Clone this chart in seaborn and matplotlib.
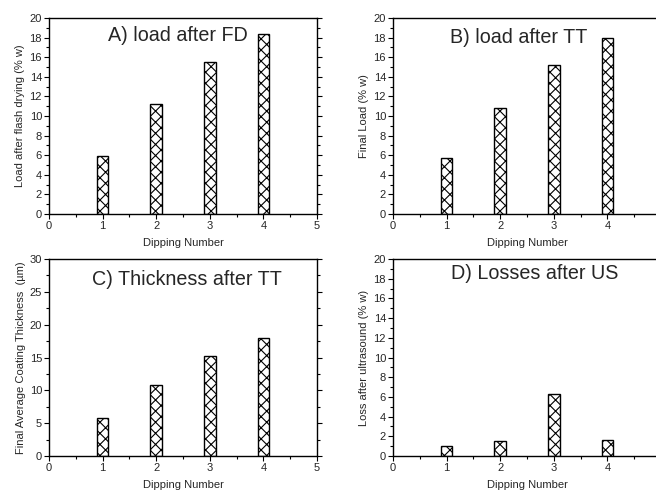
import numpy as np
import pandas as pd
import matplotlib
matplotlib.use('Agg')
import matplotlib.pyplot as plt
from matplotlib.ticker import MultipleLocator
import seaborn as sns

sns.set_style('ticks')
plt.rcParams['font.family'] = ['Liberation Sans', 'DejaVu Sans']
plt.rcParams['hatch.linewidth'] = 0.8

dips = [1, 2, 3, 4]
load_fd = [5.9, 11.2, 15.5, 18.4]
load_tt = [5.7, 10.8, 15.2, 18.0]
thick_tt = [5.8, 10.8, 15.2, 18.0]
loss_us = [1.0, 1.5, 6.3, 1.6]

panels = [
    # values, title, title pos, ylabel, ymax, ymajor, yminor, axes rect, right column?
    (load_fd, 'A) load after FD', (0.481, 0.913), 'Load after flash drying (% w)', 20, 2, 1,
     [49/656, 1-214/493, 268/656, 196/493], False),
    (load_tt, 'B) load after TT', (0.470, 0.900), 'Final Load (% w)', 20, 2, 1,
     [393/656, 1-214/493, 268/656, 196/493], True),
    (thick_tt, 'C) Thickness after TT', (0.514, 0.895), 'Final Average Coating Thickness  (\u00b5m)', 30, 5, 2.5,
     [49/656, 1-456/493, 268/656, 197/493], False),
    (loss_us, 'D) Losses after US', (0.530, 0.924), 'Loss after ultrasound (% w)', 20, 2, 1,
     [393/656, 1-456/493, 268/656, 197/493], True),
]

fig = plt.figure(figsize=(6.56, 4.93), dpi=100)

for vals, title, tpos, ylab, ymax, ymaj, ymin, rect, right_col in panels:
    ax = fig.add_axes(rect)
    df = pd.DataFrame({'dip': dips, 'val': vals})
    sns.barplot(data=df, x='dip', y='val', native_scale=True, width=0.22,
                color='white', edgecolor='black', linewidth=1.0,
                hatch='xxx', ax=ax, errorbar=None)
    for p in ax.patches:
        p.set_facecolor('white')
    ax.set_xlim(0, 5)
    ax.set_ylim(0, ymax)
    if right_col:
        ax.set_xticks([0, 1, 2, 3, 4, 5], ['0', '1', '2', '3', '4', ''])
    else:
        ax.xaxis.set_major_locator(MultipleLocator(1))
    ax.xaxis.set_minor_locator(MultipleLocator(0.5))
    ax.yaxis.set_major_locator(MultipleLocator(ymaj))
    ax.yaxis.set_minor_locator(MultipleLocator(ymin))
    ax.tick_params(which='both', direction='out', right=True, top=False,
                   labelsize=8, width=0.8, color='black', pad=1.5)
    ax.tick_params(which='major', length=3.5)
    ax.tick_params(which='minor', length=2)
    for s in ax.spines.values():
        s.set_visible(True)
        s.set_linewidth(1.0)
        s.set_color('black')
    ax.set_xlabel('Dipping Number', fontsize=8, labelpad=5)
    ax.set_ylabel(ylab, fontsize=8, labelpad=3)
    ax.text(tpos[0], tpos[1], title, transform=ax.transAxes, ha='center', va='center',
            fontsize=14.2)

fig.savefig('out.png', dpi=100)
